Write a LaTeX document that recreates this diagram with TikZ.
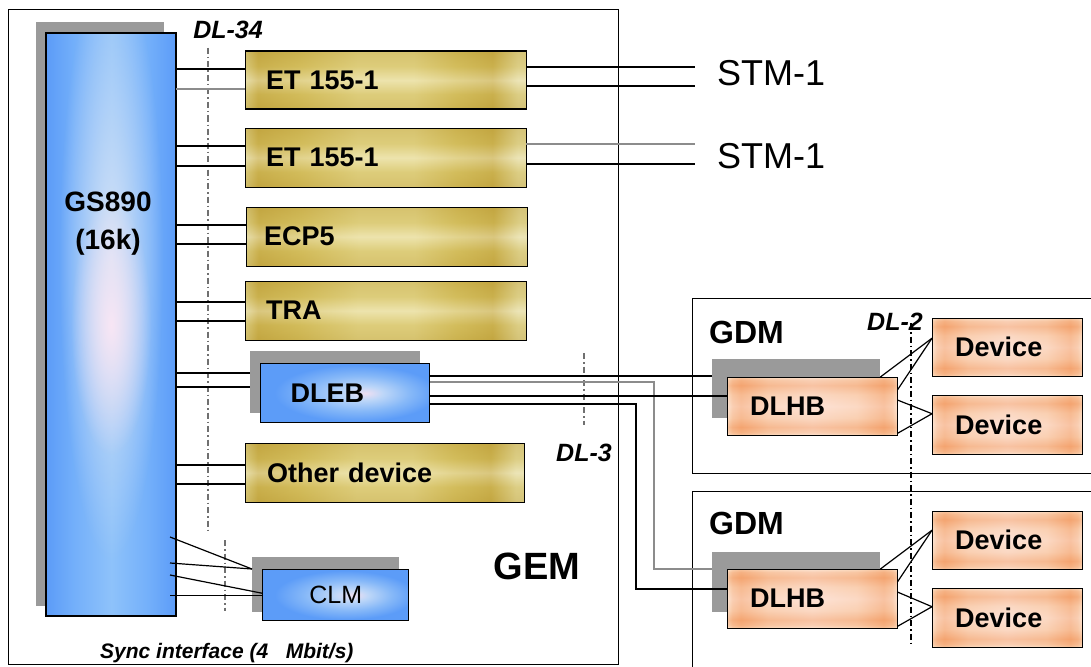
\documentclass[tikz,border=0pt]{standalone}
\usepackage{fontspec}
\setmainfont{Liberation Sans}
\usetikzlibrary{fadings}
\definecolor{shadowgrey}{HTML}{9A9A9A}
\definecolor{linegrey}{HTML}{8C8C8C}
\definecolor{dashgrey}{HTML}{707070}
\definecolor{gA}{HTML}{DCD08E}
\definecolor{gB}{HTML}{C3A641}
\definecolor{gC}{HTML}{D3BD5C}
\definecolor{gD}{HTML}{E6DA94}
\definecolor{gE}{HTML}{E4DCA6}
\definecolor{gL}{HTML}{F6F0CC}
\definecolor{bP}{HTML}{EEDFF2}
\definecolor{bL}{HTML}{BCD6F8}
\definecolor{bM}{HTML}{86B8F8}
\definecolor{bD}{HTML}{5C9CF8}
\definecolor{bTwo}{HTML}{74B0FA}
\definecolor{bThree}{HTML}{8EC2FA}
\definecolor{oP}{HTML}{FCE6CE}
\definecolor{oS}{HTML}{F7BC92}
\definecolor{oM}{HTML}{F4A470}
\definecolor{oL}{HTML}{FAD0B2}
\definecolor{oC}{HTML}{FDE2D6}
\definecolor{glowblue}{HTML}{D4E2F6}
\definecolor{pinkglow}{HTML}{F8E6F4}
\pgfdeclarehorizontalshading{goldh}{100bp}{color(0bp)=(gA); color(25bp)=(gA); color(27.25bp)=(gB); color(35bp)=(gC); color(45bp)=(gD); color(55bp)=(gD); color(62.5bp)=(gC); color(69bp)=(gB); color(73.5bp)=(gE); color(75bp)=(gE); color(100bp)=(gE)}
\pgfdeclareverticalshading{goldv}{100bp}{color(0bp)=(gB); color(25bp)=(gB); color(38bp)=(gC); color(50bp)=(gL); color(62bp)=(gC); color(75bp)=(gB); color(100bp)=(gB)}
\pgfdeclarehorizontalshading{gsh}{100bp}{color(0bp)=(bD); color(25bp)=(bD); color(36bp)=(bTwo); color(50bp)=(bThree); color(64bp)=(bTwo); color(75bp)=(bD); color(100bp)=(bD)}
\pgfdeclareradialshading{blueglow}{\pgfpoint{6bp}{0bp}}{color(0bp)=(bP); color(6bp)=(bL); color(15bp)=(bM); color(24bp)=(bD); color(50bp)=(bD)}
\pgfdeclarehorizontalshading{orangeh}{100bp}{color(0bp)=(oP); color(25bp)=(oP); color(26.5bp)=(oS); color(29bp)=(oM); color(37bp)=(oL); color(50bp)=(oC); color(63bp)=(oL); color(71bp)=(oM); color(73.5bp)=(oS); color(75bp)=(oP); color(100bp)=(oP)}
\pgfdeclareverticalshading{orangev}{100bp}{color(0bp)=(oP); color(25bp)=(oP); color(27.5bp)=(oS); color(32bp)=(oM); color(40bp)=(oL); color(50bp)=(oC); color(60bp)=(oL); color(68bp)=(oM); color(72.5bp)=(oS); color(75bp)=(oP); color(100bp)=(oP)}
\pgfdeclareradialshading{softglowshade}{\pgfpointorigin}{color(0bp)=(white); color(25bp)=(black); color(50bp)=(black)}
\pgfdeclarefading{softglow}{\pgfuseshading{softglowshade}}
\begin{document}
\begin{tikzpicture}[x=1pt,y=-1pt,
  conn/.style={line width=1.4pt, black},
  gconn/.style={line width=1.4pt, linegrey},
  dashdot/.style={line width=1.1pt, dashgrey, dash pattern=on 6pt off 3pt on 1.5pt off 3pt},
  frame/.style={draw=black, line width=1.4pt, anchor=north west, inner sep=0pt},
  shadowbox/.style={fill=shadowgrey, anchor=north west, inner sep=0pt},
  boxfont/.style={font=\fontsize{27}{30}\selectfont\bfseries},
  goldbox/.style={anchor=north west, shade, shading=goldh,
     postaction={shade, shading=goldv, fill opacity=0.45},
     postaction={draw=black, line width=1.4pt},
     inner ysep=0pt, align=left, boxfont, text=black},
  bluebox/.style={anchor=north west, shade, shading=blueglow, draw=black, line width=1.4pt, inner ysep=0pt, boxfont, text=black},
  orangebox/.style={anchor=north west, shade, shading=orangeh,
     postaction={shade, shading=orangev, fill opacity=0.5},
     postaction={draw=black, line width=1.4pt},
     inner ysep=0pt, align=left, boxfont, text=black},
  dlfont/.style={font=\fontsize{25}{30}\selectfont\bfseries\itshape, inner sep=0pt}
]
\useasboundingbox (0,0) rectangle (1091,666);
\fill[white] (0,0) rectangle (1091,666);

% frames
\node[frame, minimum width=610pt, minimum height=655pt] (gem) at (8,9) {};
\node[frame, minimum width=410pt, minimum height=175pt] (gdm1) at (692,298) {};
\node[frame, minimum width=410pt, minimum height=190pt] (gdm2) at (692,491) {};

% GS890
\node[shadowbox, minimum width=128pt, minimum height=584pt] (gss) at (36,22) {};
\node[frame, shade, shading=gsh, minimum width=129pt, minimum height=582pt] (gs) at (46,33) {};
\begin{scope}
  \clip (gs.north west) rectangle (gs.south east);
  \fill[glowblue, path fading=softglow] (111,260) ellipse [x radius=52pt, y radius=300pt];
  \fill[pinkglow, path fading=softglow] (111,325) ellipse [x radius=40pt, y radius=130pt];
\end{scope}
\draw[line width=1.4pt] (gs.north west) rectangle (gs.south east);
\node[align=center, font=\fontsize{28}{38}\selectfont\bfseries, inner sep=0pt] (gst) at (108,224) {GS890\\(16k)};

% gold boxes
\node[goldbox, minimum width=281pt, minimum height=58pt, text width=239pt, inner xsep=21pt] (et1) at (245,51) {ET 155-1};
\node[goldbox, minimum width=281pt, minimum height=59pt, text width=239pt, inner xsep=21pt] (et2) at (245,128) {ET 155-1};
\node[goldbox, minimum width=281pt, minimum height=59pt, text width=245pt, inner xsep=18pt] (ecp) at (246,207) {ECP5};
\node[goldbox, minimum width=281pt, minimum height=59pt, text width=239pt, inner xsep=21pt] (tra) at (245,281) {TRA};
\node[goldbox, minimum width=279pt, minimum height=59pt, text width=235pt, inner xsep=22pt] (oth) at (245,443) {Other device};

% DLEB and CLM
\node[shadowbox, minimum width=170pt, minimum height=62pt] (dlebs) at (250,351) {};
\node[bluebox, minimum width=169pt, minimum height=59pt, text width=109pt, inner xsep=30pt, align=left] (dleb) at (260,363) {DLEB};
\node[shadowbox, minimum width=147pt, minimum height=55pt] (clms) at (252,557) {};
\node[bluebox, minimum width=146pt, minimum height=51pt, inner xsep=0pt, font=\fontsize{25}{30}\selectfont] (clm) at (262,569) {CLM};

% GDM contents
\node[shadowbox, minimum width=168pt, minimum height=59pt] (dlhb1s) at (712,359) {};
\node[orangebox, minimum width=170pt, minimum height=58pt, text width=124pt, inner xsep=23pt] (dlhb1) at (727,377) {DLHB};
\node[shadowbox, minimum width=168pt, minimum height=60pt] (dlhb2s) at (712,552) {};
\node[orangebox, minimum width=170pt, minimum height=59pt, text width=124pt, inner xsep=23pt] (dlhb2) at (727,569) {DLHB};
\node[orangebox, minimum width=150pt, minimum height=58pt, text width=104pt, inner xsep=23pt] (dev1) at (932,318) {Device};
\node[orangebox, minimum width=150pt, minimum height=59pt, text width=104pt, inner xsep=23pt] (dev2) at (932,395) {Device};
\node[orangebox, minimum width=150pt, minimum height=58pt, text width=104pt, inner xsep=23pt] (dev3) at (932,511) {Device};
\node[orangebox, minimum width=150pt, minimum height=59pt, text width=104pt, inner xsep=23pt] (dev4) at (932,588) {Device};

% labels
\node[dlfont] (dl34) at (228,30) {DL-34};
\node[dlfont] (dl3) at (584,453) {DL-3};
\node[dlfont] (dl2) at (895,322) {DL-2};
\node[font=\fontsize{38}{44}\selectfont\bfseries, inner sep=0pt] (gemlab) at (537,566) {GEM};
\node[anchor=west, font=\fontsize{32}{36}\selectfont\bfseries, inner sep=0pt] (gdm1lab) at (709,332) {GDM};
\node[anchor=west, font=\fontsize{32}{36}\selectfont\bfseries, inner sep=0pt] (gdm2lab) at (709,523) {GDM};
\node[anchor=west, font=\fontsize{36}{40}\selectfont, inner sep=0pt] (stm1) at (717,73) {STM-1};
\node[anchor=west, font=\fontsize{36}{40}\selectfont, inner sep=0pt] (stm2) at (717,156) {STM-1};
\node[anchor=west, font=\fontsize{21}{24}\selectfont\bfseries\itshape, inner sep=0pt] (sync) at (100,653) {Sync interface (4\ \ \ Mbit/s)};

% dash-dot separation lines
\draw[dashdot] (208,48) -- (208,532);
\draw[dashdot] (225,540) -- (225,611);
\draw[dashdot] (584,353) -- (584,425);
\draw[dashdot, black] (911,323) -- (911,646);

% GS890 to cards
\draw[conn] (gs.east |- 0,69) -- (et1.west |- 0,69);
\draw[gconn] (gs.east |- 0,89) -- (et1.west |- 0,89);
\draw[conn] (gs.east |- 0,146) -- (et2.west |- 0,146);
\draw[conn] (gs.east |- 0,166) -- (et2.west |- 0,166);
\draw[conn] (gs.east |- 0,225) -- (ecp.west |- 0,225);
\draw[conn] (gs.east |- 0,244) -- (ecp.west |- 0,244);
\draw[conn] (gs.east |- 0,302) -- (tra.west |- 0,302);
\draw[conn] (gs.east |- 0,321) -- (tra.west |- 0,321);
\draw[conn] (gs.east |- 0,373) -- (dlebs.west |- 0,373);
\draw[conn] (gs.east |- 0,387) -- (dlebs.west |- 0,387);
\draw[conn] (gs.east |- 0,465) -- (oth.west |- 0,465);
\draw[conn] (gs.east |- 0,484) -- (oth.west |- 0,484);

% GS890 to CLM
\coordinate (gsi) at (170,0);
\draw[conn, line width=1.2pt] (gsi |- 0,537) -- (clms.west |- clm.north);
\draw[conn, line width=1.2pt] (gsi |- 0,563) -- (clms.west |- clm.north);
\draw[conn, line width=1.2pt] (gsi |- 0,575) -- ([yshift=2pt]clm.west);
\draw[conn, line width=1.2pt] (gsi |- clm.west) -- (clm.west);

% STM-1 lines
\coordinate (stmx) at (695,0);
\draw[conn] (et1.east |- 0,67) -- (stmx |- 0,67);
\draw[conn] (et1.east |- 0,86) -- (stmx |- 0,86);
\draw[gconn] (et2.east |- 0,144) -- (stmx |- 0,144);
\draw[conn] (et2.east |- 0,164) -- (stmx |- 0,164);

% DLEB to DLHB
\coordinate (r1) at (654,569);
\coordinate (r2) at (636,589);
\draw[conn] (dleb.east |- 0,376) -- (dlhb1s.west |- 0,376);
\draw[gconn] (dleb.east |- 0,382) -| (r1) -- (dlhb2s.west |- r1);
\draw[conn] (dleb.east |- 0,396) -- (dlhb1.west |- 0,396);
\draw[conn] (dleb.east |- 0,404) -| (r2) -- (dlhb2.west |- r2);

% DLHB to devices
\draw[conn, line width=1.2pt] ([xshift=-17pt]dlhb1.north east) -- ([yshift=9pt]dev1.west);
\draw[conn, line width=1.2pt] ([yshift=-13pt]dlhb1.north east) -- ([yshift=9pt]dev1.west);
\draw[conn, line width=1.2pt] ([yshift=-23pt]dlhb1.north east) -- ([yshift=11pt]dev2.west);
\draw[conn, line width=1.2pt] ([yshift=2pt]dlhb1.south east) -- ([yshift=11pt]dev2.west);
\draw[conn, line width=1.2pt] ([xshift=-17pt]dlhb2.north east) -- ([yshift=10pt]dev3.west);
\draw[conn, line width=1.2pt] ([yshift=-13pt]dlhb2.north east) -- ([yshift=10pt]dev3.west);
\draw[conn, line width=1.2pt] ([yshift=-23pt]dlhb2.north east) -- ([yshift=11pt]dev4.west);
\draw[conn, line width=1.2pt] ([yshift=2pt]dlhb2.south east) -- ([yshift=11pt]dev4.west);
\end{tikzpicture}
\end{document}
